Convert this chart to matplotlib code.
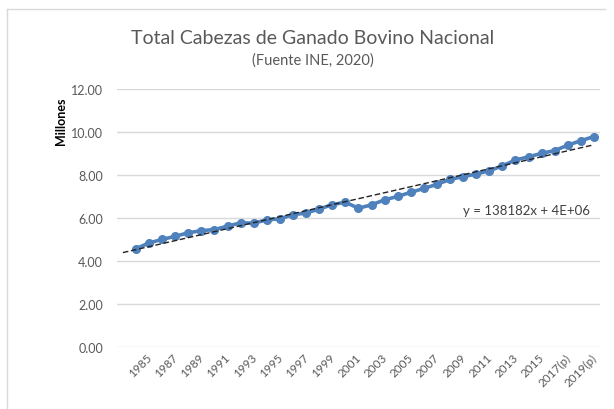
import numpy as np
import matplotlib.pyplot as plt
import matplotlib.transforms as mtransforms
from matplotlib.lines import Line2D

# Cabezas de ganado bovino (millones), 1985 - 2020
years = [str(y) for y in range(1985, 2017)] + ['2017(p)', '2018(p)', '2019(p)', '2020(p)']
cabezas = [4.58, 4.85, 5.01, 5.16, 5.32, 5.42, 5.47, 5.63, 5.78, 5.77, 5.92,
           5.97, 6.16, 6.24, 6.42, 6.63, 6.74, 6.46, 6.62, 6.85, 7.01, 7.20,
           7.38, 7.57, 7.80, 7.93, 8.05, 8.20, 8.43, 8.70, 8.85, 9.01, 9.14,
           9.39, 9.60, 9.79]
yticks = [0, 2, 4, 6, 8, 10, 12]
eq_text = 'y = 138182x + 4E+06'

font = ['Lato', 'DejaVu Sans']
gray = '#595959'

fig = plt.figure(figsize=(6.14, 4.10), dpi=100)
ax = fig.add_axes([117/614, 1 - 348.3/410, (600 - 117)/614, (348.3 - 90)/410])

x = np.arange(len(years))
ax.plot(x, cabezas, color='#4f81bd', lw=2.6, marker='o', ms=5.5, zorder=3)

# linear trend, one period of backward forecast like excel
k, b = np.polyfit(x, cabezas, 1)
xt = np.array([-1, x[-1]])
ax.plot(xt, k*xt + b, color='#222222', lw=1.0, ls=(0, (4, 2)), zorder=4)

ax.set_ylim(0, 12)
ax.set_yticks(yticks)
ax.set_yticklabels(['%.2f' % v for v in yticks], color=gray, fontsize=9, family=font)
ax.set_xlim(-1.45, 35.46)
ax.set_xticks(x[::2])
ax.set_xticklabels(years[::2], rotation=45, ha='right', rotation_mode='anchor',
                   color=gray, fontsize=8.5, family=font)
ax.tick_params(length=0)
ax.tick_params(axis='y', pad=10)
ax.tick_params(axis='x', pad=3)
# excel puts the end of rotated labels a bit right of the category
shift = mtransforms.ScaledTranslation(10/100, 0, fig.dpi_scale_trans)
for lab in ax.get_xticklabels():
    lab.set_transform(lab.get_transform() + shift)
ax.grid(axis='y', color='#d9d9d9', lw=1)
ax.set_axisbelow(True)
for s in ax.spines.values():
    s.set_visible(False)

ax.text(0.98, 6.38/12, eq_text, transform=ax.transAxes, ha='right', va='center',
        fontsize=9.5, color='#404040', family=font)

fig.text(313/614, 1 - 38/410, 'Total Cabezas de Ganado Bovino Nacional',
         ha='center', va='center', fontsize=14, color=gray, family=font)
fig.text(313/614, 1 - 61/410, '(Fuente INE, 2020)',
         ha='center', va='center', fontsize=10.5, color=gray, family=font)
fig.text(61/614, 1 - 121/410, 'Millones', rotation=90, ha='center', va='center',
         fontsize=9, fontweight='bold', color='black', family=font)

# chart frame (left and top edges visible)
fig.add_artist(Line2D([7/614, 7/614], [0, 1 - 10/410], transform=fig.transFigure,
                      color='#d9d9d9', lw=1))
fig.add_artist(Line2D([7/614, 605/614], [1 - 10/410, 1 - 10/410], transform=fig.transFigure,
                      color='#d9d9d9', lw=1))

fig.savefig('out.png', dpi=100)
